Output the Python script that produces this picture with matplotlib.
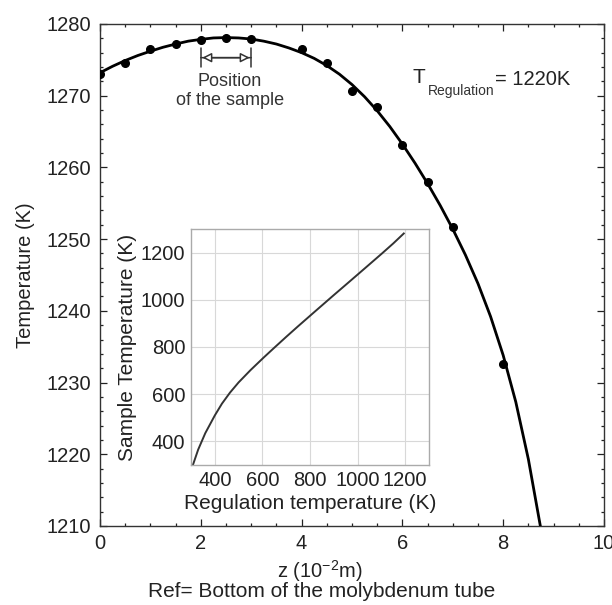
import numpy as np
import matplotlib
matplotlib.use("Agg")
import matplotlib.pyplot as plt

plt.rcParams['font.family'] = ['Liberation Sans', 'DejaVu Sans']
plt.rcParams['mathtext.fontset'] = 'custom'
plt.rcParams['mathtext.rm'] = 'Liberation Sans'
plt.rcParams['mathtext.it'] = 'Liberation Sans'

# measured temperatures along the tube
z_meas = [0, 0.5, 1.0, 1.5, 2.0, 2.5, 3.0, 4.0, 4.5, 5.0, 5.5, 6.0, 6.5, 7.0, 8.0]
T_meas = [1273.0, 1274.5, 1276.5, 1277.2, 1277.8, 1278.0, 1277.9, 1276.5,
          1274.5, 1270.7, 1268.4, 1263.1, 1258.0, 1251.7, 1232.6]

# fitted profile
z_fit = [0, 0.25, 0.5, 0.75, 1.0, 1.25, 1.5, 1.75, 2.0, 2.25, 2.5, 2.75, 3.0, 3.25,
         3.5, 3.75, 4.0, 4.25, 4.5, 4.75, 5.0, 5.25, 5.5, 5.75, 6.0, 6.25, 6.5,
         6.75, 7.0, 7.25, 7.5, 7.75, 8.0, 8.25, 8.5, 8.75]
T_fit = [1273.2, 1274.1, 1274.9, 1275.6, 1276.2, 1276.75, 1277.2, 1277.6, 1277.85,
         1278.05, 1278.1, 1278.05, 1277.9, 1277.6, 1277.2, 1276.65, 1276.0, 1275.2,
         1274.2, 1273.0, 1271.55, 1269.85, 1267.9, 1265.7, 1263.25, 1260.6, 1257.75,
         1254.7, 1251.4, 1247.8, 1243.8, 1239.2, 1233.8, 1227.3, 1219.3, 1209.5]

# inset: sample temperature vs regulation temperature
T_reg = [308, 330, 360, 400, 430, 464, 500, 550, 606, 650, 700, 750, 818,
         900, 960, 1030, 1102, 1150, 1194]
T_sample = [300, 365, 435, 510, 560, 607, 650, 702, 756, 797, 843, 888, 948,
            1020, 1072, 1133, 1196, 1239, 1281]

fig = plt.figure(figsize=(6.12, 6.05), dpi=100)
ax = fig.add_axes([0.1634, 0.1306, 0.8235, 0.8298])

ax.plot(z_fit, T_fit, color='black', lw=2.0, zorder=3)
ax.plot(z_meas, T_meas, 'o', color='black', ms=5.5, zorder=4)

ax.set_xlim(0, 10)
ax.set_ylim(1210, 1280)
ax.set_xticks([0, 2, 4, 6, 8, 10])
ax.set_xticks(np.arange(0, 10.01, 0.5), minor=True)
ax.set_yticks(np.arange(1210, 1281, 10))
ax.set_yticks(np.arange(1210, 1281, 2), minor=True)
ax.tick_params(which='both', direction='in', top=True, right=True,
               labelsize=14.5, colors='#222222', width=0.9)
ax.tick_params(which='major', length=5)
ax.tick_params(which='minor', length=2.5)
ax.tick_params(axis='y', which='major', pad=6.5)
ax.tick_params(axis='x', which='major', pad=5.5)
for s in ax.spines.values():
    s.set_linewidth(1.0)
    s.set_color('#333333')

ax.set_ylabel('Temperature (K)', fontsize=14.5, color='#222222')
ax.yaxis.set_label_coords(-0.128, 0.5)
ax.set_xlabel('z (10$^{-2}$m)', fontsize=14.5, color='#222222')
ax.xaxis.set_label_coords(0.437, -0.063)
fig.text(0.525, 0.023, 'Ref= Bottom of the molybdenum tube', ha='center',
         va='center', fontsize=15, color='#222222')

# sample position bracket
ax.annotate('', xy=(2.0, 1275.3), xytext=(3.0, 1275.3),
            arrowprops=dict(arrowstyle='|-|, widthA=0.7, widthB=0.7',
                            color='#333333', lw=1.1, shrinkA=0, shrinkB=0))
ax.annotate('', xy=(2.03, 1275.3), xytext=(2.97, 1275.3),
            arrowprops=dict(arrowstyle='<|-|>, head_length=0.55, head_width=0.28',
                            fc='white', ec='#333333', lw=1.1, shrinkA=0, shrinkB=0))
ax.text(2.58, 1270.7, 'Position\nof the sample', ha='center', va='center',
        fontsize=13, color='#333333', linespacing=1.15)

# regulation label
ax.text(6.2, 1272.5, 'T', fontsize=15, color='#222222', va='center', ha='left')
ax.text(6.5, 1270.6, 'Regulation', fontsize=10, color='#333333', va='center', ha='left')
ax.text(7.84, 1272.3, '= 1220K', fontsize=14.5, color='#222222', va='center', ha='left')

# inset
axin = fig.add_axes([0.3121, 0.2314, 0.3889, 0.3901])
axin.plot(T_reg, T_sample, color='#333333', lw=1.4)
axin.set_xlim(300, 1300)
axin.set_ylim(300, 1300)
axin.set_xticks([400, 600, 800, 1000, 1200])
axin.set_yticks([400, 600, 800, 1000, 1200])
axin.grid(True, color='#d8d8d8', lw=0.8)
axin.tick_params(length=0, labelsize=14.5, colors='#222222', pad=4)
for s in axin.spines.values():
    s.set_color('#aaaaaa')
    s.set_linewidth(1.0)
axin.set_xlabel('Regulation temperature (K)', fontsize=15, color='#222222', labelpad=3)
axin.set_ylabel('Sample Temperature (K)', fontsize=15, color='#222222', labelpad=3)

fig.savefig('out.png', dpi=100)
